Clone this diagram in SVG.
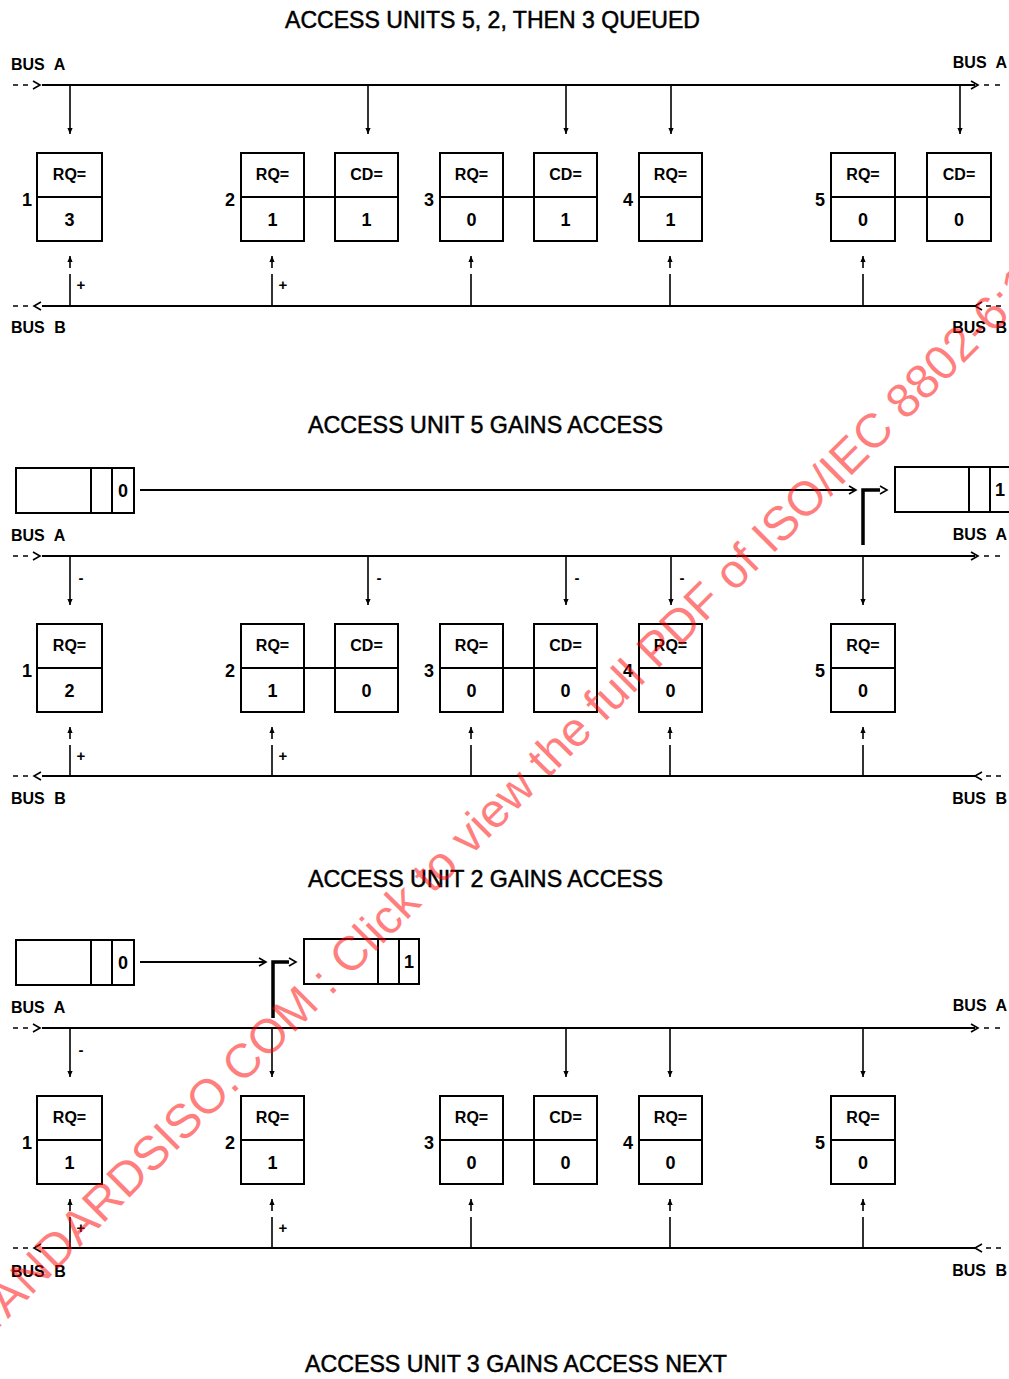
<svg xmlns="http://www.w3.org/2000/svg" width="1009" height="1379" viewBox="0 0 1009 1379">
<style>
.ln{stroke:#000;stroke-width:2;fill:none}
.tk{stroke:#000;stroke-width:1.6;fill:none}
.thick{stroke:#000;stroke-width:3.5;fill:none}
.box{fill:#fff;stroke:#000;stroke-width:2}
.t{font-family:"Liberation Sans",Arial,sans-serif;font-weight:bold;fill:#000}
.lbl{font-size:16px;text-anchor:middle}
.val{font-size:18px;text-anchor:middle}
.num{font-size:18px;text-anchor:middle}
.bus{font-size:16px;word-spacing:5px}
.pm{font-size:15px;text-anchor:middle}
.title{font-family:"Liberation Sans",Arial,sans-serif;font-size:24px;fill:#000;stroke:#000;stroke-width:0.5}
.wm{font-family:"Liberation Sans",Arial,sans-serif;font-size:48px;fill:#ff0000;fill-opacity:0.5}
</style>
<defs>
<marker id="ah" viewBox="0 0 6 6" refX="6" refY="3" markerWidth="6" markerHeight="6" orient="auto" markerUnits="userSpaceOnUse"><path d="M0,0.4 L6,3 L0,5.6 z" fill="#000"/></marker>
</defs>
<rect width="1009" height="1379" fill="#fff"/>

<!-- Titles -->
<text class="title" x="285" y="28" textLength="415" lengthAdjust="spacingAndGlyphs">ACCESS UNITS 5, 2, THEN 3 QUEUED</text>
<text class="title" x="308" y="433" textLength="355" lengthAdjust="spacingAndGlyphs">ACCESS UNIT 5 GAINS ACCESS</text>
<text class="title" x="308" y="887" textLength="355" lengthAdjust="spacingAndGlyphs">ACCESS UNIT 2 GAINS ACCESS</text>
<text class="title" x="305" y="1372" textLength="422" lengthAdjust="spacingAndGlyphs">ACCESS UNIT 3 GAINS ACCESS NEXT</text>

<!-- ================= SECTION 1 ================= -->
<g id="section1">
<g id="s1-buses">
<text class="t bus" x="11" y="70">BUS A</text>
<text class="t bus" x="1007" y="68" text-anchor="end">BUS A</text>
<text class="t bus" x="11" y="333">BUS B</text>
<text class="t bus" x="1007" y="333" text-anchor="end">BUS B</text>
<path class="ln" d="M42,85 H975"/>
<path class="tk" d="M13,85 H18 M23,85 H28 M33,81 L40,85 L33,89 M971,81 L978,85 L971,89 M984,85 H989 M995,85 H1000"/>
<path class="ln" d="M42,306 H975"/>
<path class="tk" d="M13,306 H18 M23,306 H28 M41,302 L34,306 L41,310 M982,302 L975,306 L982,310 M986,306 H991 M996,306 H1001"/>
</g>
<g id="s1-connectors">
<path class="tk" marker-end="url(#ah)" d="M70,86 V134"/>
<path class="tk" marker-end="url(#ah)" d="M368,86 V134"/>
<path class="tk" marker-end="url(#ah)" d="M566,86 V134"/>
<path class="tk" marker-end="url(#ah)" d="M671,86 V134"/>
<path class="tk" marker-end="url(#ah)" d="M960,86 V134"/>
<path class="tk" d="M70,306 V274 M272,306 V274 M471,306 V274 M670,306 V274 M863,306 V274"/>
<path class="tk" marker-end="url(#ah)" d="M70,268 V256"/>
<path class="tk" marker-end="url(#ah)" d="M272,268 V256"/>
<path class="tk" marker-end="url(#ah)" d="M471,268 V256"/>
<path class="tk" marker-end="url(#ah)" d="M670,268 V256"/>
<path class="tk" marker-end="url(#ah)" d="M863,268 V256"/>
<path class="ln" d="M304,197 H335 M503,197 H534 M895,197 H927"/>
<text class="t pm" x="81" y="290">+</text>
<text class="t pm" x="283" y="290">+</text>
</g>
<g id="s1-unit1">
<text class="t num" x="27" y="206">1</text>
<rect class="box" x="37" y="153" width="65" height="88"/><path class="ln" d="M37,197 H102"/>
<text class="t lbl" x="69.5" y="180">RQ=</text><text class="t val" x="69.5" y="226">3</text>
</g>
<g id="s1-unit2">
<text class="t num" x="230" y="206">2</text>
<rect class="box" x="241" y="153" width="63" height="88"/><path class="ln" d="M241,197 H304"/>
<text class="t lbl" x="272.5" y="180">RQ=</text><text class="t val" x="272.5" y="226">1</text>
<rect class="box" x="335" y="153" width="63" height="88"/><path class="ln" d="M335,197 H398"/>
<text class="t lbl" x="366.5" y="180">CD=</text><text class="t val" x="366.5" y="226">1</text>
</g>
<g id="s1-unit3">
<text class="t num" x="429" y="206">3</text>
<rect class="box" x="440" y="153" width="63" height="88"/><path class="ln" d="M440,197 H503"/>
<text class="t lbl" x="471.5" y="180">RQ=</text><text class="t val" x="471.5" y="226">0</text>
<rect class="box" x="534" y="153" width="63" height="88"/><path class="ln" d="M534,197 H597"/>
<text class="t lbl" x="565.5" y="180">CD=</text><text class="t val" x="565.5" y="226">1</text>
</g>
<g id="s1-unit4">
<text class="t num" x="628" y="206">4</text>
<rect class="box" x="639" y="153" width="63" height="88"/><path class="ln" d="M639,197 H702"/>
<text class="t lbl" x="670.5" y="180">RQ=</text><text class="t val" x="670.5" y="226">1</text>
</g>
<g id="s1-unit5">
<text class="t num" x="820" y="206">5</text>
<rect class="box" x="831" y="153" width="64" height="88"/><path class="ln" d="M831,197 H895"/>
<text class="t lbl" x="863" y="180">RQ=</text><text class="t val" x="863" y="226">0</text>
<rect class="box" x="927" y="153" width="64" height="88"/><path class="ln" d="M927,197 H991"/>
<text class="t lbl" x="959" y="180">CD=</text><text class="t val" x="959" y="226">0</text>
</g>
</g>

<!-- ================= SECTION 2 ================= -->
<g id="section2">
<g id="s2-slots">
<rect class="box" x="16" y="468" width="118" height="45"/><path class="ln" d="M91,468 V513 M112,468 V513"/>
<text class="t val" x="123" y="497">0</text>
<rect class="box" x="895" y="467" width="125" height="45"/><path class="ln" d="M969,467 V512 M990,467 V512"/>
<text class="t val" x="1000" y="496">1</text>
</g>
<g id="s2-slot-connectors">
<path class="ln" d="M140,490 H856"/>
<path class="tk" d="M849,486 L856,490 L849,494"/>
<path class="thick" d="M863,545 V490 H880"/>
<path class="tk" d="M880,486 L887,490 L880,494"/>
</g>
<g transform="translate(0,471)">
<g id="s2-buses">
<text class="t bus" x="11" y="70">BUS A</text>
<text class="t bus" x="1007" y="69" text-anchor="end">BUS A</text>
<text class="t bus" x="11" y="333">BUS B</text>
<text class="t bus" x="1007" y="333" text-anchor="end">BUS B</text>
<path class="ln" d="M42,85 H975"/>
<path class="tk" d="M13,85 H18 M23,85 H28 M33,81 L40,85 L33,89 M971,81 L978,85 L971,89 M984,85 H989 M995,85 H1000"/>
<path class="ln" d="M42,305 H975"/>
<path class="tk" d="M13,305 H18 M23,305 H28 M41,301 L34,305 L41,309 M982,301 L975,305 L982,309 M986,305 H991 M996,305 H1001"/>
</g>
<g id="s2-connectors">
<path class="tk" marker-end="url(#ah)" d="M70,86 V134"/>
<path class="tk" marker-end="url(#ah)" d="M368,86 V134"/>
<path class="tk" marker-end="url(#ah)" d="M566,86 V134"/>
<path class="tk" marker-end="url(#ah)" d="M671,86 V134"/>
<path class="tk" marker-end="url(#ah)" d="M863,86 V134"/>
<path class="tk" d="M70,305 V274 M272,305 V274 M471,305 V274 M670,305 V274 M863,305 V274"/>
<path class="tk" marker-end="url(#ah)" d="M70,268 V256"/>
<path class="tk" marker-end="url(#ah)" d="M272,268 V256"/>
<path class="tk" marker-end="url(#ah)" d="M471,268 V256"/>
<path class="tk" marker-end="url(#ah)" d="M670,268 V256"/>
<path class="tk" marker-end="url(#ah)" d="M863,268 V256"/>
<path class="ln" d="M304,197 H335 M503,197 H534"/>
<text class="t pm" x="81" y="290">+</text>
<text class="t pm" x="283" y="290">+</text>
<text class="t pm" x="81" y="112">-</text>
<text class="t pm" x="379" y="112">-</text>
<text class="t pm" x="577" y="112">-</text>
<text class="t pm" x="682" y="112">-</text>
</g>
<g id="s2-unit1">
<text class="t num" x="27" y="206">1</text>
<rect class="box" x="37" y="153" width="65" height="88"/><path class="ln" d="M37,197 H102"/>
<text class="t lbl" x="69.5" y="180">RQ=</text><text class="t val" x="69.5" y="226">2</text>
</g>
<g id="s2-unit2">
<text class="t num" x="230" y="206">2</text>
<rect class="box" x="241" y="153" width="63" height="88"/><path class="ln" d="M241,197 H304"/>
<text class="t lbl" x="272.5" y="180">RQ=</text><text class="t val" x="272.5" y="226">1</text>
<rect class="box" x="335" y="153" width="63" height="88"/><path class="ln" d="M335,197 H398"/>
<text class="t lbl" x="366.5" y="180">CD=</text><text class="t val" x="366.5" y="226">0</text>
</g>
<g id="s2-unit3">
<text class="t num" x="429" y="206">3</text>
<rect class="box" x="440" y="153" width="63" height="88"/><path class="ln" d="M440,197 H503"/>
<text class="t lbl" x="471.5" y="180">RQ=</text><text class="t val" x="471.5" y="226">0</text>
<rect class="box" x="534" y="153" width="63" height="88"/><path class="ln" d="M534,197 H597"/>
<text class="t lbl" x="565.5" y="180">CD=</text><text class="t val" x="565.5" y="226">0</text>
</g>
<g id="s2-unit4">
<text class="t num" x="628" y="206">4</text>
<rect class="box" x="639" y="153" width="63" height="88"/><path class="ln" d="M639,197 H702"/>
<text class="t lbl" x="670.5" y="180">RQ=</text><text class="t val" x="670.5" y="226">0</text>
</g>
<g id="s2-unit5">
<text class="t num" x="820" y="206">5</text>
<rect class="box" x="831" y="153" width="64" height="88"/><path class="ln" d="M831,197 H895"/>
<text class="t lbl" x="863" y="180">RQ=</text><text class="t val" x="863" y="226">0</text>
</g>
</g>
</g>

<!-- ================= SECTION 3 ================= -->
<g id="section3">
<g id="s3-slots">
<rect class="box" x="16" y="940" width="118" height="45"/><path class="ln" d="M91,940 V985 M112,940 V985"/>
<text class="t val" x="123" y="969">0</text>
<rect class="box" x="304" y="939" width="115" height="45"/><path class="ln" d="M378,939 V984 M399,939 V984"/>
<text class="t val" x="409" y="968">1</text>
</g>
<g id="s3-slot-connectors">
<path class="ln" d="M140,962 H266"/>
<path class="tk" d="M259,958 L266,962 L259,966"/>
<path class="thick" d="M273,1018 V962 H289"/>
<path class="tk" d="M289,958 L296,962 L289,966"/>
</g>
<g transform="translate(0,943)">
<g id="s3-buses">
<text class="t bus" x="11" y="70">BUS A</text>
<text class="t bus" x="1007" y="68" text-anchor="end">BUS A</text>
<text class="t bus" x="11" y="334">BUS B</text>
<text class="t bus" x="1007" y="333" text-anchor="end">BUS B</text>
<path class="ln" d="M42,85 H975"/>
<path class="tk" d="M13,85 H18 M23,85 H28 M33,81 L40,85 L33,89 M971,81 L978,85 L971,89 M984,85 H989 M995,85 H1000"/>
<path class="ln" d="M42,305 H975"/>
<path class="tk" d="M13,305 H18 M23,305 H28 M41,301 L34,305 L41,309 M982,301 L975,305 L982,309 M986,305 H991 M996,305 H1001"/>
</g>
<g id="s3-connectors">
<path class="tk" marker-end="url(#ah)" d="M70,86 V134"/>
<path class="tk" marker-end="url(#ah)" d="M272,86 V134"/>
<path class="tk" marker-end="url(#ah)" d="M566,86 V134"/>
<path class="tk" marker-end="url(#ah)" d="M670,86 V134"/>
<path class="tk" marker-end="url(#ah)" d="M863,86 V134"/>
<path class="tk" d="M70,305 V274 M272,305 V274 M471,305 V274 M670,305 V274 M863,305 V274"/>
<path class="tk" marker-end="url(#ah)" d="M70,268 V256"/>
<path class="tk" marker-end="url(#ah)" d="M272,268 V256"/>
<path class="tk" marker-end="url(#ah)" d="M471,268 V256"/>
<path class="tk" marker-end="url(#ah)" d="M670,268 V256"/>
<path class="tk" marker-end="url(#ah)" d="M863,268 V256"/>
<path class="ln" d="M503,197 H534"/>
<text class="t pm" x="81" y="290">+</text>
<text class="t pm" x="283" y="290">+</text>
<text class="t pm" x="81" y="112">-</text>
</g>
<g id="s3-unit1">
<text class="t num" x="27" y="206">1</text>
<rect class="box" x="37" y="153" width="65" height="88"/><path class="ln" d="M37,197 H102"/>
<text class="t lbl" x="69.5" y="180">RQ=</text><text class="t val" x="69.5" y="226">1</text>
</g>
<g id="s3-unit2">
<text class="t num" x="230" y="206">2</text>
<rect class="box" x="241" y="153" width="63" height="88"/><path class="ln" d="M241,197 H304"/>
<text class="t lbl" x="272.5" y="180">RQ=</text><text class="t val" x="272.5" y="226">1</text>
</g>
<g id="s3-unit3">
<text class="t num" x="429" y="206">3</text>
<rect class="box" x="440" y="153" width="63" height="88"/><path class="ln" d="M440,197 H503"/>
<text class="t lbl" x="471.5" y="180">RQ=</text><text class="t val" x="471.5" y="226">0</text>
<rect class="box" x="534" y="153" width="63" height="88"/><path class="ln" d="M534,197 H597"/>
<text class="t lbl" x="565.5" y="180">CD=</text><text class="t val" x="565.5" y="226">0</text>
</g>
<g id="s3-unit4">
<text class="t num" x="628" y="206">4</text>
<rect class="box" x="639" y="153" width="63" height="88"/><path class="ln" d="M639,197 H702"/>
<text class="t lbl" x="670.5" y="180">RQ=</text><text class="t val" x="670.5" y="226">0</text>
</g>
<g id="s3-unit5">
<text class="t num" x="820" y="206">5</text>
<rect class="box" x="831" y="153" width="64" height="88"/><path class="ln" d="M831,197 H895"/>
<text class="t lbl" x="863" y="180">RQ=</text><text class="t val" x="863" y="226">0</text>
</g>
</g>
</g>

<!-- Watermark -->
<text class="wm" x="-33" y="1360" transform="rotate(-45 -33 1360)">STANDARDSISO.COM : Click to view the full PDF of ISO/IEC 8802-6:1994</text>
</svg>
